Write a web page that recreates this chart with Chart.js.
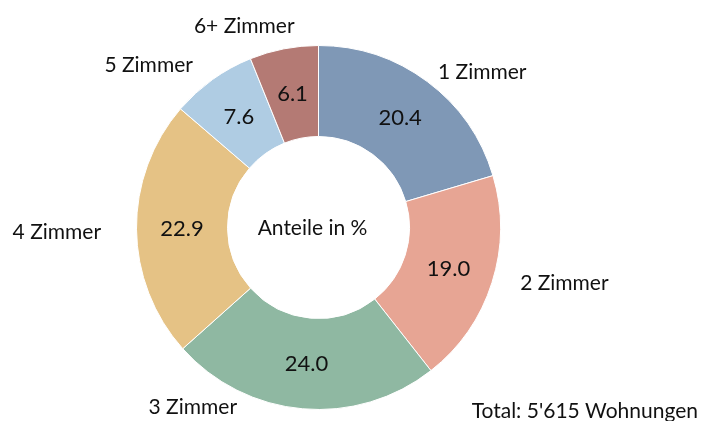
<!DOCTYPE html>
<html>
<head>
<meta charset="utf-8">
<script src="https://cdn.jsdelivr.net/npm/chart.js@4"></script>
<style>
  html, body { margin: 0; padding: 0; background: #fff; }
  #wrap { width: 703px; height: 421px; }
</style>
</head>
<body>
<div id="wrap"><canvas id="chart" width="703" height="421"></canvas></div>
<script>
const categories = ['1 Zimmer', '2 Zimmer', '3 Zimmer', '4 Zimmer', '5 Zimmer', '6+ Zimmer'];
const shares = [20.4, 19.0, 24.0, 22.9, 7.6, 6.1];
const colors = ['#7f98b6', '#e7a594', '#8fb8a2', '#e5c285', '#afcce3', '#b47a74'];
const centerText = 'Anteile in %';
const totalText = "Total: 5'615 Wohnungen";

// outside label placement: angle shift from slice middle (deg), distance as factor of outer radius
const labelShift = [9.8, -4.9, 29.9, -0.5, -10.7, -9.3];
const labelDist = [1.24, 1.385, 1.206, 1.438, 1.29, 1.177];

const FONT = 'Lato, "Open Sans", sans-serif';

const textPlugin = {
  id: 'texts',
  afterDraw(chart) {
    const ctx = chart.ctx;
    const arcs = chart.getDatasetMeta(0).data;
    ctx.save();
    ctx.fillStyle = '#111';
    ctx.textAlign = 'center';
    ctx.textBaseline = 'middle';
    let cx = 0, cy = 0;
    arcs.forEach((arc, i) => {
      const p = arc.getProps(['x', 'y', 'startAngle', 'endAngle', 'innerRadius', 'outerRadius'], true);
      cx = p.x; cy = p.y;
      const mid = (p.startAngle + p.endAngle) / 2;
      const r = (p.innerRadius + p.outerRadius) / 2;
      ctx.font = '22px ' + FONT;
      ctx.fillText(shares[i].toFixed(1), p.x + r * Math.cos(mid), p.y + r * Math.sin(mid));
      const a = mid + labelShift[i] * Math.PI / 180;
      const d = p.outerRadius * labelDist[i];
      ctx.font = '21px ' + FONT;
      ctx.fillText(categories[i], p.x + d * Math.cos(a), p.y + d * Math.sin(a));
    });
    ctx.font = '21px ' + FONT;
    ctx.fillText(centerText, cx - 6, cy + 1);
    ctx.textAlign = 'right';
    ctx.fillText(totalText, 698, 411);
    ctx.restore();
  }
};

new Chart(document.getElementById('chart'), {
  type: 'doughnut',
  data: {
    labels: categories,
    datasets: [{
      data: shares,
      backgroundColor: colors,
      borderColor: '#ffffff',
      borderWidth: 1
    }]
  },
  options: {
    responsive: false,
    animation: false,
    cutout: '50%',
    layout: { padding: { left: 0, right: 66, top: 45, bottom: 11 } },
    plugins: {
      legend: { display: false },
      tooltip: { enabled: false }
    }
  },
  plugins: [textPlugin]
});
</script>
</body>
</html>
